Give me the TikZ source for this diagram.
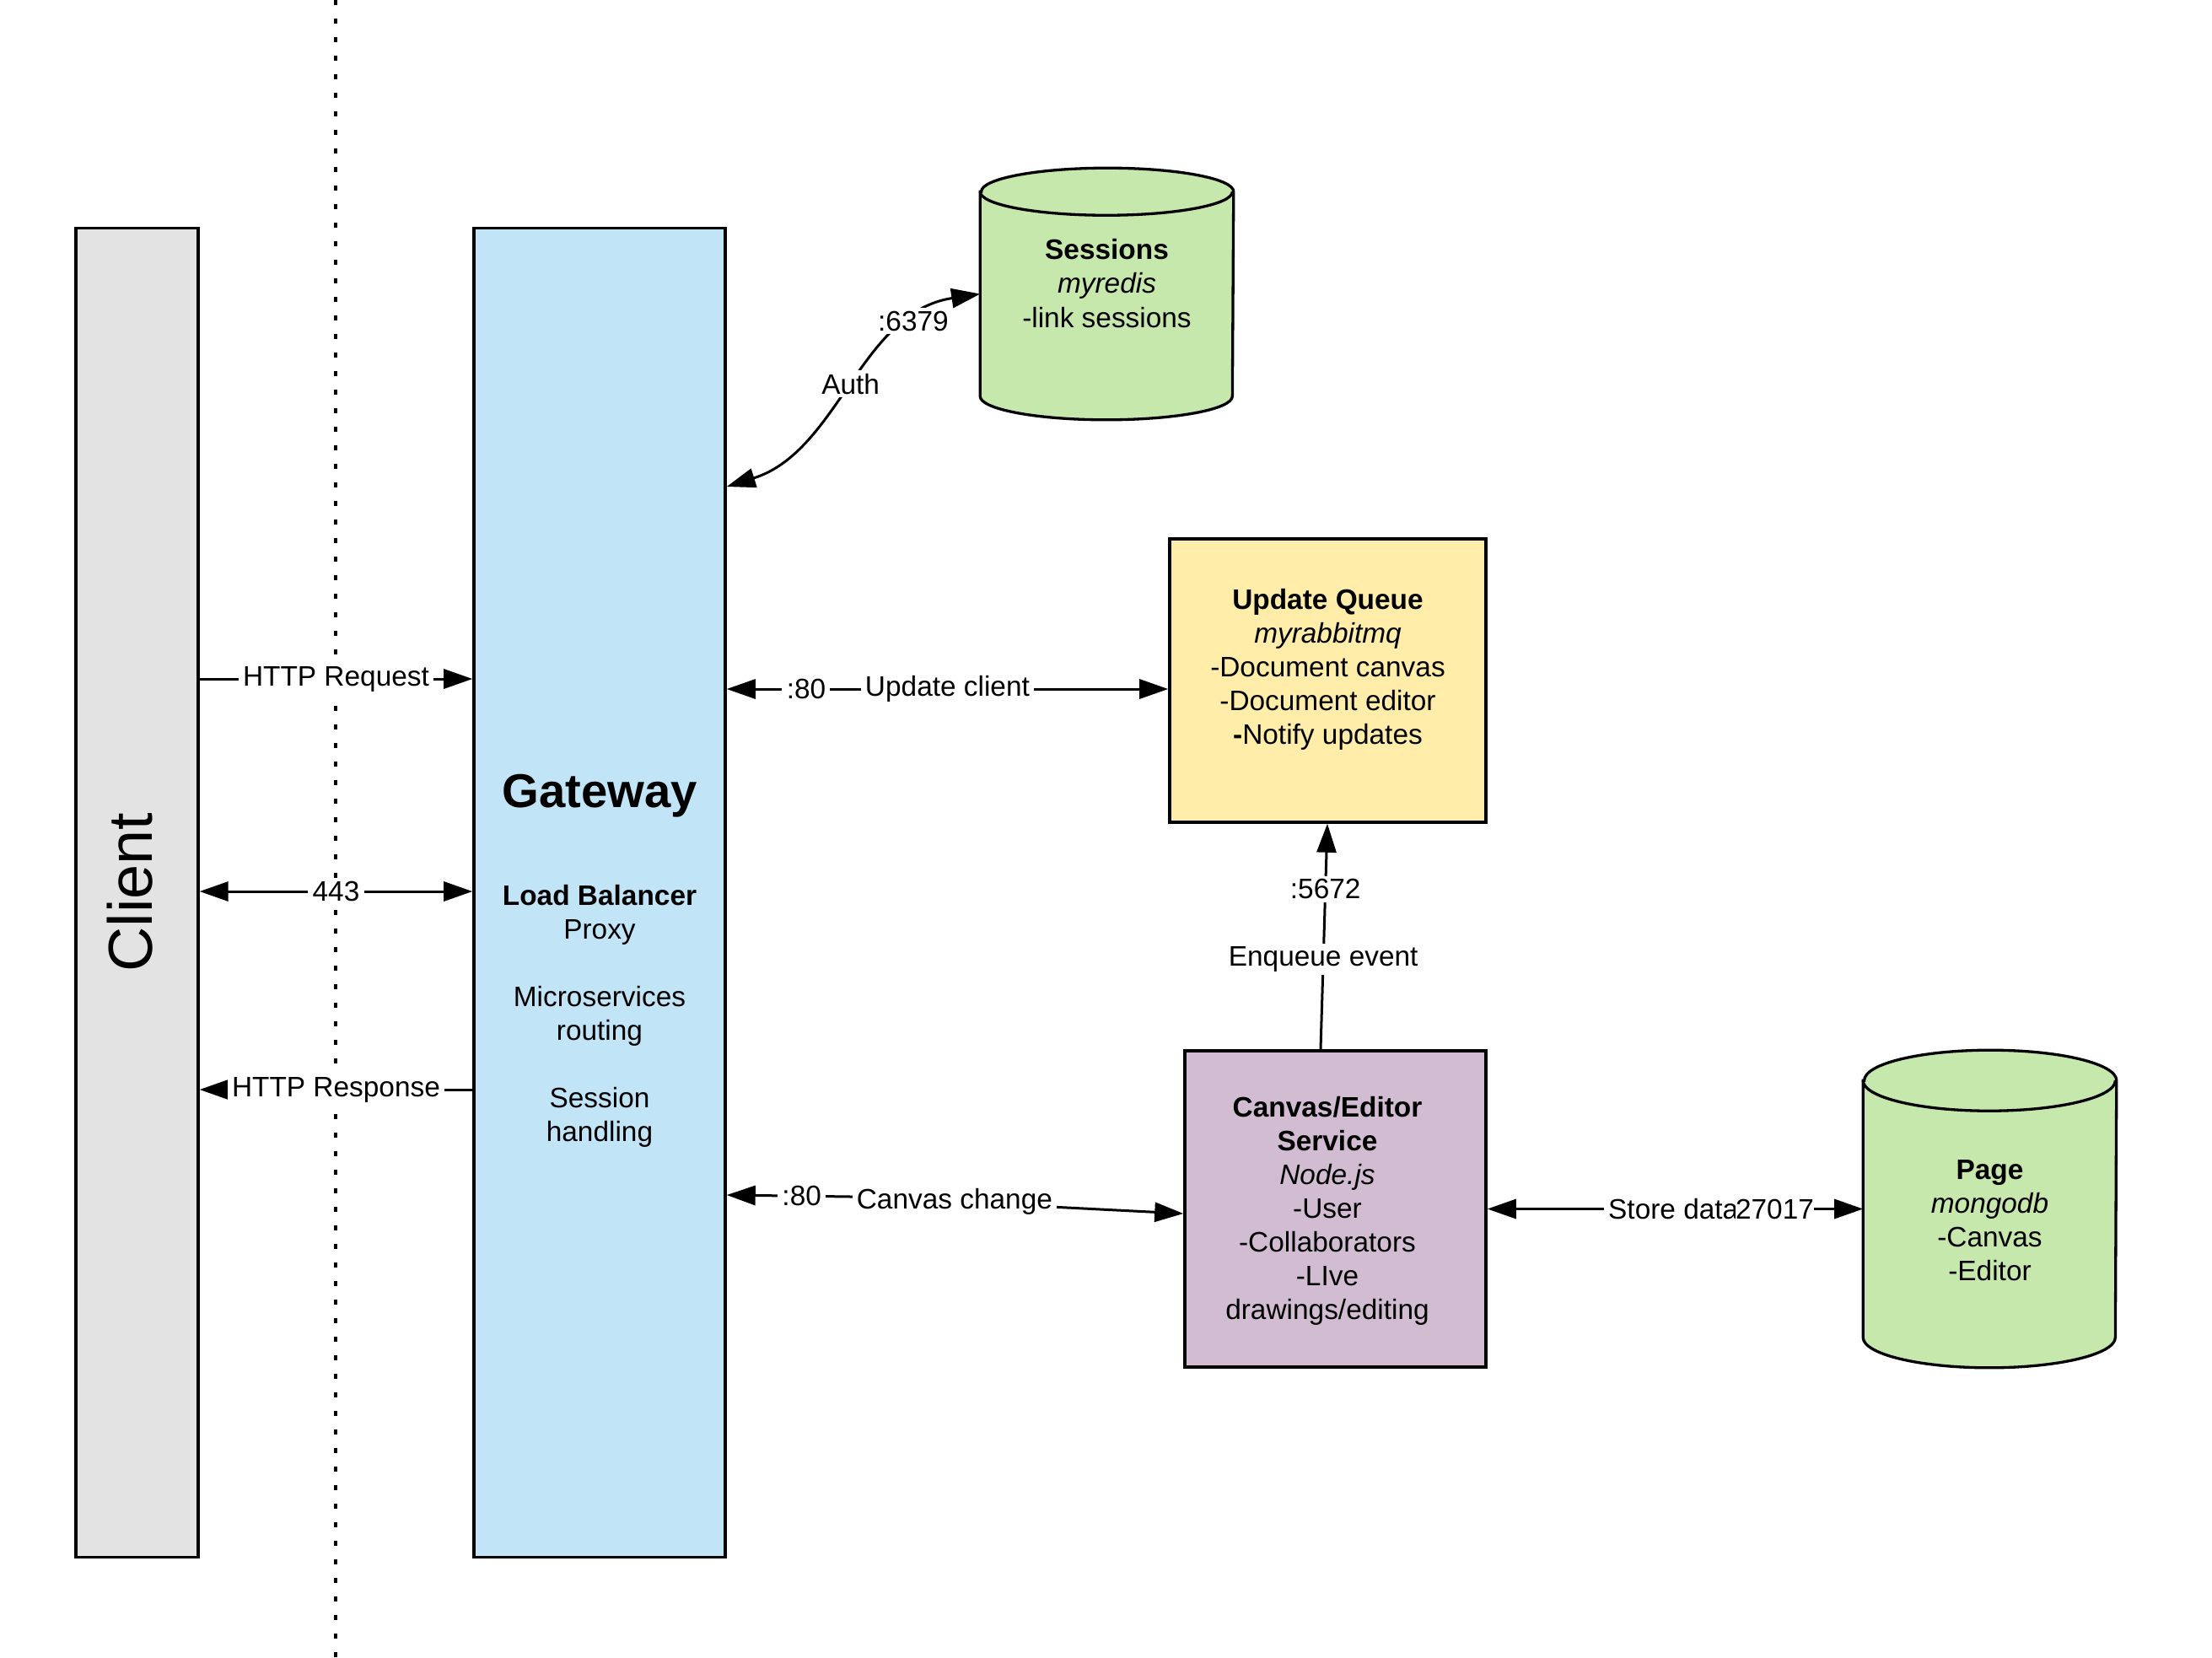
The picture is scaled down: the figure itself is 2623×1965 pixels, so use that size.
\documentclass[tikz,border=0pt]{standalone}
\usepackage{fontspec}
\setmainfont{Liberation Sans}
\usetikzlibrary{arrows.meta}
\definecolor{clientgray}{HTML}{E3E3E3}
\definecolor{gwblue}{HTML}{C1E4F7}
\definecolor{dbgreen}{HTML}{C7E8AC}
\definecolor{qyellow}{HTML}{FFEDA9}
\definecolor{svcpurple}{HTML}{D1BCD2}
\begin{document}
\begin{tikzpicture}[x=0.01cm, y=-0.01cm,
  >={Triangle[length=0.34cm,width=0.23cm]},
  box/.style={draw=black, line width=0.033cm, inner sep=0pt},
  cyl/.style={draw=black, line width=0.033cm, fill=dbgreen},
  txt/.style={font=\fontsize{9.5}{11.4}\selectfont, align=center, inner sep=0pt},
  conn/.style={draw=black, line width=0.03cm},
  lbl/.style={font=\fontsize{9.5}{11.4}\selectfont, fill=white, inner xsep=1.5pt, inner ysep=1pt},
  divider/.style={line width=0.035cm, dash pattern=on 0.06cm off 0.16cm}
]
\useasboundingbox (0,0) rectangle (2623,1965);
\fill[white] (0,0) rectangle (2623,1965);

% divider
\coordinate (divtop) at (398,0);
\coordinate (divbot) at (398,1965);
\draw[divider] (divtop) -- (divbot);

% client
\node[box, fill=clientgray, minimum width=1.45cm, minimum height=15.75cm] (client) at (162.5,1058.5) {};
\node[font=\fontsize{21}{25}\selectfont, rotate=90, inner sep=0pt] (clienttxt) at (154,1058) {Client};

% gateway
\node[box, fill=gwblue, minimum width=2.98cm, minimum height=15.75cm] (gateway) at (711,1058.5) {};
\node[font=\fontsize{16}{19}\selectfont\bfseries, inner sep=0pt] (gwtitle) at (711,944) {Gateway};
\node[txt] (gwbody) at (711,1205) {\textbf{Load Balancer}\\Proxy\\[11.4pt]Microservices\\routing\\[11.4pt]Session\\handling};

% sessions cylinder
\node[minimum width=2.99cm, minimum height=2.97cm, inner sep=0pt] (sessions) at (1312.5,348.5) {};
\path[cyl] ([yshift=-0.28cm]sessions.north west) -- ([yshift=0.28cm]sessions.south west)
  arc[start angle=180, end angle=360, x radius=1.495cm, y radius=0.28cm]
  -- ([yshift=-0.28cm]sessions.north east)
  arc[start angle=0, end angle=180, x radius=1.495cm, y radius=0.28cm] -- cycle;
\draw[line width=0.033cm] ([yshift=-0.28cm]sessions.north west)
  arc[start angle=180, end angle=360, x radius=1.495cm, y radius=0.28cm];
\node[txt] (sesstxt) at (1312.5,336) {\textbf{Sessions}\\\textit{myredis}\\-link sessions};

% update queue
\node[box, fill=qyellow, minimum width=3.75cm, minimum height=3.36cm] (queue) at (1574.5,807) {};
\node[txt] (queuetxt) at (1574.5,794) {\textbf{Update Queue}\\\textit{myrabbitmq}\\-Document canvas\\-Document editor\\\textbf{-}Notify updates};

% canvas/editor service
\node[box, fill=svcpurple, minimum width=3.57cm, minimum height=3.75cm] (canvas) at (1583.5,1433.5) {};
\node[txt] (canvastxt) at (1574,1436) {\textbf{Canvas/Editor}\\\textbf{Service}\\\textit{Node.js}\\-User\\-Collaborators\\-LIve\\drawings/editing};

% page cylinder
\node[minimum width=2.99cm, minimum height=3.75cm, inner sep=0pt] (page) at (2359.5,1433.5) {};
\path[cyl] ([yshift=-0.36cm]page.north west) -- ([yshift=0.36cm]page.south west)
  arc[start angle=180, end angle=360, x radius=1.495cm, y radius=0.36cm]
  -- ([yshift=-0.36cm]page.north east)
  arc[start angle=0, end angle=180, x radius=1.495cm, y radius=0.36cm] -- cycle;
\draw[line width=0.033cm] ([yshift=-0.36cm]page.north west)
  arc[start angle=180, end angle=360, x radius=1.495cm, y radius=0.36cm];
\node[txt] (pagetxt) at (2359.5,1447) {\textbf{Page}\\\textit{mongodb}\\-Canvas\\-Editor};

% connectors client <-> gateway
\draw[conn,->] (client.east |- 0,805) -- node[lbl]{HTTP Request} (gateway.west |- 0,805);
\draw[conn,<->] (client.east |- 0,1057) -- node[lbl]{443} (gateway.west |- 0,1057);
\draw[conn,->] (gateway.west |- 0,1292) -- node[lbl]{HTTP Response} (client.east |- 0,1292);

% auth
\draw[conn,<->] (gateway.east |- 0,577) .. controls (995,535) and (1020,370) .. (sessions.west)
  node[lbl,pos=0.5]{Auth} node[lbl,pos=0.78]{:6379};

% update client
\draw[conn,<->] (gateway.east |- 0,817) -- node[lbl,pos=0.18]{:80} node[lbl,pos=0.5]{Update client} (queue.west |- 0,817);

% enqueue
\draw[conn,->] (1566,0 |- canvas.north) -- node[lbl,pos=0.40]{Enqueue event} node[lbl,pos=0.71]{:5672} (1574,0 |- queue.south);

% canvas change
\coordinate (ccbend) at (1010,1419);
\draw[conn,<->] (gateway.east |- 0,1417) -- node[lbl,pos=0.6]{:80} (ccbend) -- node[lbl,pos=0.31]{Canvas change} (canvas.west |- 0,1439);

% store data
\draw[conn,<->] (canvas.east) -- node[lbl,pos=0.495]{Store data} node[lbl,pos=0.765,inner xsep=0pt]{27017} (page.west);
\end{tikzpicture}
\end{document}
